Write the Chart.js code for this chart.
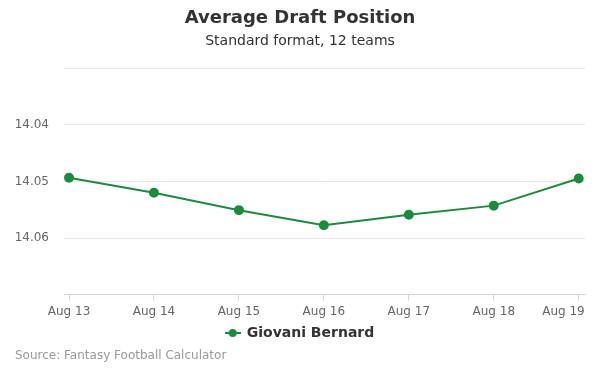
<!DOCTYPE html>
<html>
<head>
<meta charset="utf-8">
<script src="https://cdn.jsdelivr.net/npm/chart.js@4"></script>
<style>
  body { margin: 0; background: #fff; }
</style>
</head>
<body>
<canvas id="adpChart" width="600" height="375"></canvas>
<script>
const labels = ['Aug 13', 'Aug 14', 'Aug 15', 'Aug 16', 'Aug 17', 'Aug 18', 'Aug 19'];
const adp = [14.0495, 14.0515, 14.0538, 14.0558, 14.0544, 14.0532, 14.0496];
const yTicks = [14.035, 14.0425, 14.05, 14.0575, 14.065];
const yTickLabels = ['', '14.04', '14.05', '14.06', ''];

const green = '#1b8c3c';
const font = '"DejaVu Sans", sans-serif';

// legend symbol: short line with a dot in the middle
function legendSymbol() {
    const c = document.createElement('canvas');
    c.width = 16;
    c.height = 10;
    const g = c.getContext('2d');
    g.strokeStyle = green;
    g.lineWidth = 2;
    g.beginPath();
    g.moveTo(0, 5);
    g.lineTo(16, 5);
    g.stroke();
    g.fillStyle = green;
    g.beginPath();
    g.arc(8, 5, 4, 0, Math.PI * 2);
    g.fill();
    return c;
}

const sourcePlugin = {
    id: 'source',
    afterDraw(chart) {
        const ctx = chart.ctx;
        ctx.save();
        ctx.font = '12px ' + font;
        ctx.fillStyle = '#999999';
        ctx.textBaseline = 'middle';
        ctx.textAlign = 'left';
        ctx.fillText('Source: Fantasy Football Calculator', 15, 356);
        ctx.restore();
    }
};

const symbol = legendSymbol();

new Chart(document.getElementById('adpChart').getContext('2d'), {
    type: 'line',
    data: {
        datasets: [{
            label: 'Giovani Bernard',
            data: adp.map((v, i) => ({ x: i, y: v })),
            borderColor: green,
            backgroundColor: green,
            borderWidth: 2,
            pointRadius: 4,
            pointHoverRadius: 5,
            tension: 0
        }]
    },
    options: {
        responsive: false,
        animation: false,
        layout: {
            padding: { left: 0, right: 0, top: 0, bottom: 25 }
        },
        plugins: {
            title: {
                display: true,
                text: 'Average Draft Position',
                color: '#333333',
                font: { family: font, size: 18, weight: 'bold' },
                padding: { top: 8, bottom: 0 }
            },
            subtitle: {
                display: true,
                text: 'Standard format, 12 teams',
                color: '#333333',
                font: { family: font, size: 14 },
                padding: { top: 3, bottom: 19 }
            },
            legend: {
                position: 'bottom',
                labels: {
                    color: '#333333',
                    font: { family: font, size: 14, weight: 'bold' },
                    usePointStyle: true,
                    padding: 3,
                    generateLabels(chart) {
                        const items = Chart.defaults.plugins.legend.labels.generateLabels(chart);
                        items.forEach(it => { it.pointStyle = symbol; });
                        return items;
                    }
                }
            },
            tooltip: { enabled: false }
        },
        scales: {
            x: {
                type: 'linear',
                min: -0.059,
                max: 6.074,
                afterBuildTicks(scale) {
                    scale.ticks = labels.map((l, i) => ({ value: i }));
                },
                afterFit(scale) {
                    scale.paddingLeft = 0;
                    scale.paddingRight = 15;
                },
                ticks: {
                    color: '#666666',
                    font: { family: font, size: 12 },
                    padding: 4,
                    maxRotation: 0,
                    autoSkip: false,
                    // last label is pulled inside the plot like the original
                    callback: (v) => v === labels.length - 1 ? labels[v] + '        ' : labels[v]
                },
                grid: {
                    drawOnChartArea: false,
                    drawTicks: true,
                    tickLength: 6,
                    color: '#ccd6eb'
                },
                border: { display: true, color: '#ccd6eb' }
            },
            y: {
                reverse: true,
                min: yTicks[0],
                max: yTicks[yTicks.length - 1],
                afterBuildTicks(scale) {
                    scale.ticks = yTicks.map(v => ({ value: v }));
                },
                afterFit(scale) {
                    scale.width = 64;
                },
                ticks: {
                    color: '#666666',
                    font: { family: font, size: 12 },
                    padding: 15,
                    callback: (v, i) => yTickLabels[i]
                },
                grid: {
                    color: '#e6e6e6',
                    drawTicks: false
                },
                border: { display: false }
            }
        }
    },
    plugins: [sourcePlugin]
});
</script>
</body>
</html>
